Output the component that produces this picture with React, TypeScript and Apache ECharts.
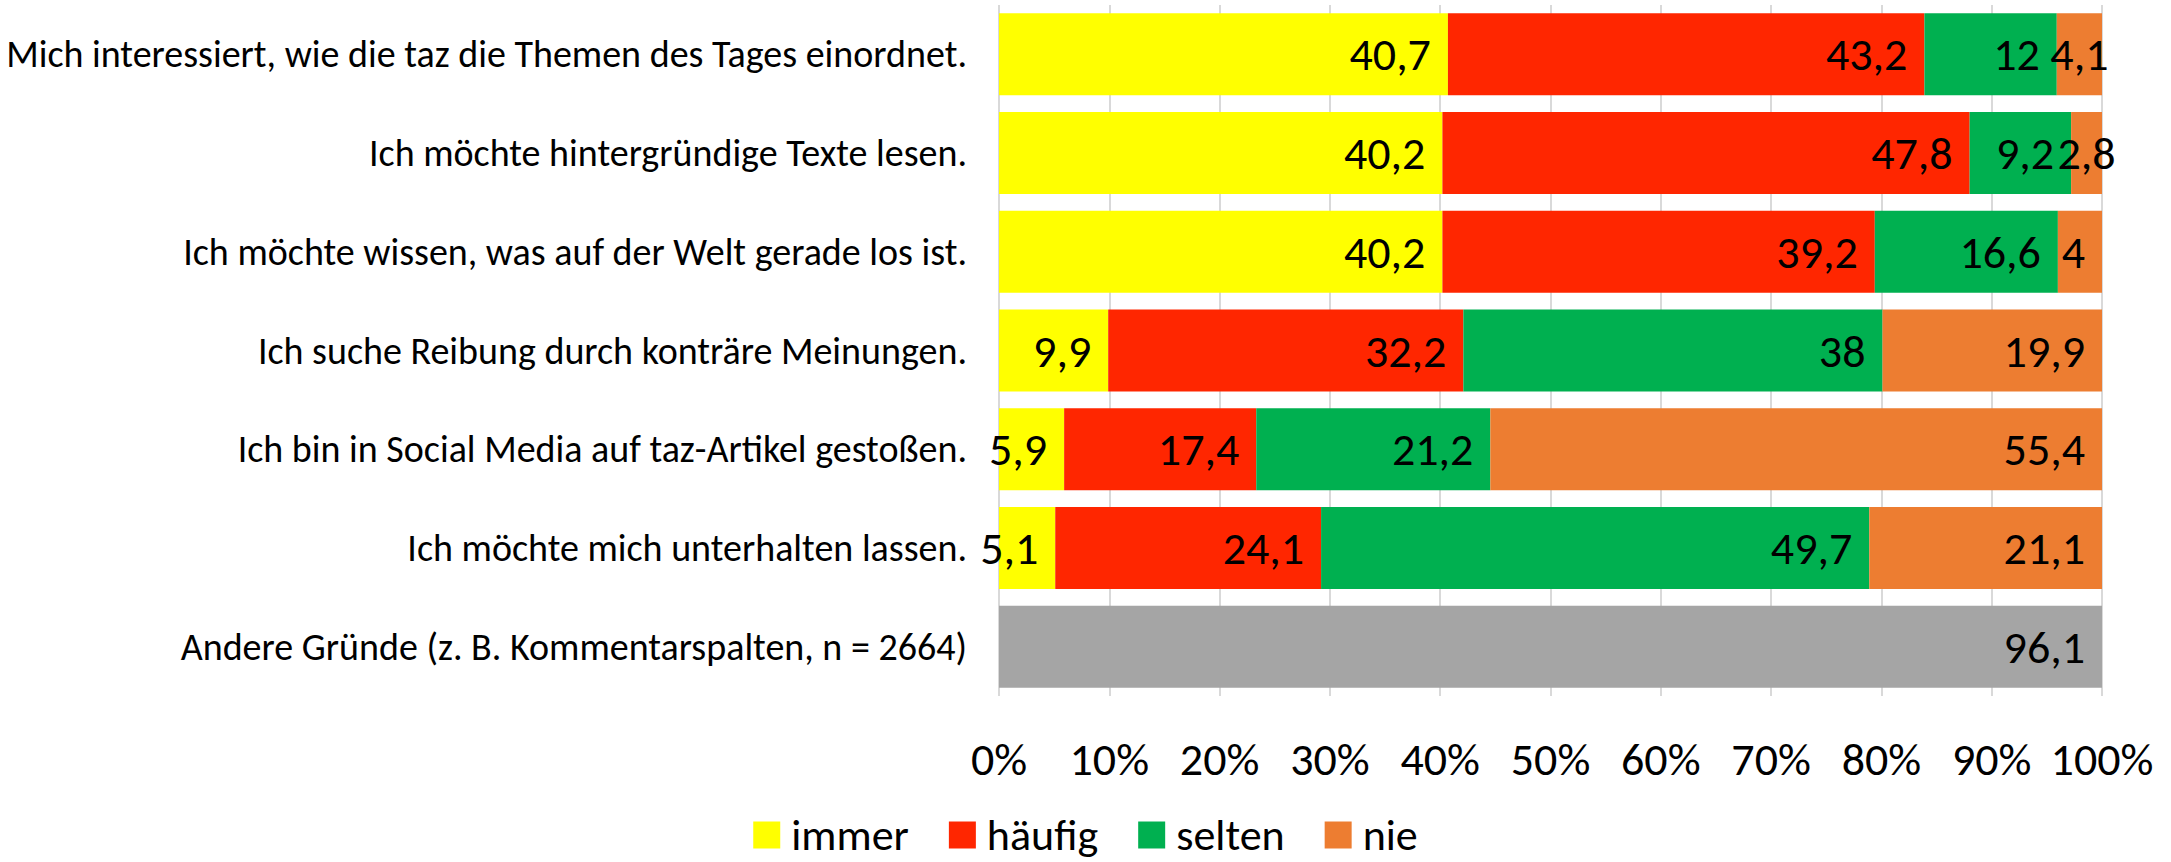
import React, { useEffect, useRef } from "react";
import * as echarts from "echarts";

const categories = [
  "Mich interessiert, wie die taz die Themen des Tages einordnet.",
  "Ich möchte hintergründige Texte lesen.",
  "Ich möchte wissen, was auf der Welt gerade los ist.",
  "Ich suche Reibung durch konträre Meinungen.",
  "Ich bin in Social Media auf taz-Artikel gestoßen.",
  "Ich möchte mich unterhalten lassen.",
  "Andere Gründe (z. B. Kommentarspalten, n = 2664)",
];

const immer = [40.7, 40.2, 40.2, 9.9, 5.9, 5.1, null];
const haeufig = [43.2, 47.8, 39.2, 32.2, 17.4, 24.1, null];
const selten = [12, 9.2, 16.6, 38, 21.2, 49.7, null];
const nie = [4.1, 2.8, 4, 19.9, 55.4, 21.1, null];
const andere = [null, null, null, null, null, null, 96.1];

const xTicks = [0, 10, 20, 30, 40, 50, 60, 70, 80, 90, 100];

const seriesDefs = [
  { name: "immer", values: immer, color: "#FFFF00" },
  { name: "häufig", values: haeufig, color: "#FF2600" },
  { name: "selten", values: selten, color: "#00B050" },
  { name: "nie", values: nie, color: "#ED7D31" },
  { name: "andere", values: andere, color: "#A5A5A5" },
];

const FONT = "Carlito, Calibri, Lato, 'Open Sans', sans-serif";
const GRID_LEFT = 999;
const GRID_RIGHT = 69;
const CHART_W = 2171;
const LABEL_SIZE = 46;

export default function App() {
  const ref = useRef<HTMLDivElement>(null);
  useEffect(() => {
    document.body.style.margin = "0";
    if (!ref.current) return;
    const chart = echarts.init(ref.current, null, { renderer: "svg" });
    const plotW = CHART_W - GRID_LEFT - GRID_RIGHT;
    const rowSums = categories.map((_, i) =>
      seriesDefs.reduce((s, d) => s + (d.values[i] ?? 0), 0)
    );
    const fmt = (v: number) => String(v).replace(".", ",");
    const series = seriesDefs.map((d) => ({
      name: d.name,
      type: "bar",
      stack: "total",
      barWidth: 82,
      itemStyle: { color: d.color },
      label: {
        show: true,
        position: "insideRight",
        distance: 17,
        color: "#000",
        fontSize: LABEL_SIZE,
        fontFamily: FONT,
        formatter: (p: any) => {
          const raw = d.values[p.dataIndex];
          return raw == null ? "" : fmt(raw as number);
        },
      },
      labelLayout: { moveOverlap: "shiftX" },
      data: d.values.map((v, i) => {
        if (v == null) return null;
        const share = ((v as number) / rowSums[i]) * 100;
        const segW = (share / 100) * plotW;
        const txtW = fmt(v as number).length * LABEL_SIZE * 0.45;
        const isLast = d.name === "nie";
        if (isLast && segW < txtW + 10) {
          return { value: share, label: { position: "inside" } };
        }
        return share;
      }),
    }));
    chart.setOption({
      animation: false,
      textStyle: { fontFamily: FONT },
      grid: { left: GRID_LEFT, right: GRID_RIGHT, top: 5, bottom: 166, containLabel: false },
      legend: {
        data: ["immer", "häufig", "selten", "nie"],
        top: 808,
        left: "center",
        itemWidth: 27,
        itemHeight: 27,
        itemGap: 40,
        icon: "rect",
        textStyle: { fontSize: 44, fontFamily: FONT, color: "#000", padding: [0, 0, 0, 6] },
      },
      xAxis: {
        type: "value",
        min: 0,
        max: 100,
        interval: 10,
        axisLine: { show: false },
        axisTick: { show: false },
        splitLine: { show: true, lineStyle: { color: "#D9D9D9", width: 2 } },
        axisLabel: {
          margin: 40,
          fontSize: 46,
          fontFamily: FONT,
          color: "#000",
          formatter: (v: number) => (xTicks.includes(v) ? `${v}%` : ""),
        },
      },
      yAxis: {
        type: "category",
        data: categories,
        inverse: true,
        axisLine: { show: false },
        axisTick: { show: false },
        axisLabel: { margin: 32, fontSize: 38, fontFamily: FONT, color: "#000" },
      },
      series,
    });
    return () => chart.dispose();
  }, []);
  return <div ref={ref} style={{ width: CHART_W, height: 862 }} />;
}
